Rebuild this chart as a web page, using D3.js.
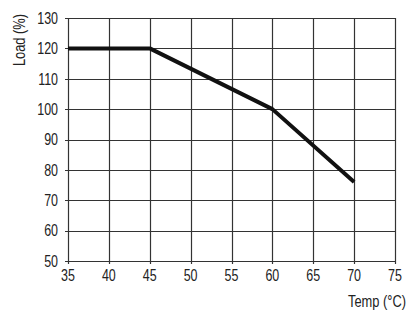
<!DOCTYPE html>
<html>
<head>
<meta charset="utf-8">
<script src="https://cdn.jsdelivr.net/npm/d3@7"></script>
<style>
  body { margin: 0; background: #fff; }
  text { font-family: "Liberation Sans", Arial, sans-serif; fill: #222; }
</style>
</head>
<body>
<svg width="420" height="321"></svg>
<script>
  // derating curve
  const temps = [35, 45, 60, 70];
  const loads = [120, 120, 100, 76];
  const xTicks = [35, 40, 45, 50, 55, 60, 65, 70, 75];
  const yTicks = [50, 60, 70, 80, 90, 100, 110, 120, 130];

  const svg = d3.select('svg');
  const margin = { left: 68, right: 25, top: 18, bottom: 60 };
  const width = 420 - margin.left - margin.right;
  const height = 321 - margin.top - margin.bottom;
  const squeeze = 0.78; // fake condensed font

  const x = d3.scaleLinear().domain([35, 75]).range([0, width]);
  const y = d3.scaleLinear().domain([50, 130]).range([height, 0]);

  const g = svg.append('g').attr('transform', `translate(${margin.left},${margin.top})`);

  // grid
  g.selectAll('.vgrid').data(xTicks).enter().append('line')
    .attr('x1', d => Math.round(x(d)) + 0.5).attr('x2', d => Math.round(x(d)) + 0.5)
    .attr('y1', 0).attr('y2', height + 3)
    .attr('stroke', '#333').attr('stroke-width', 1.2);
  g.selectAll('.hgrid').data(yTicks).enter().append('line')
    .attr('y1', d => Math.round(y(d)) + 0.5).attr('y2', d => Math.round(y(d)) + 0.5)
    .attr('x1', -3).attr('x2', width)
    .attr('stroke', '#333').attr('stroke-width', 1.2);

  // tick labels
  g.selectAll('.xl').data(xTicks).enter().append('text')
    .attr('transform', d => `translate(${x(d)},${height + 20}) scale(${squeeze},1)`)
    .attr('text-anchor', 'middle').attr('font-size', 16)
    .text(d => d);
  g.selectAll('.yl').data(yTicks).enter().append('text')
    .attr('transform', d => `translate(-10,${y(d)}) scale(${squeeze},1)`)
    .attr('dy', '0.36em')
    .attr('text-anchor', 'end').attr('font-size', 16)
    .text(d => d);

  // curve
  const line = d3.line().x(d => x(d[0])).y(d => y(d[1]));
  g.append('path')
    .datum(temps.map((t, i) => [t, loads[i]]))
    .attr('d', line)
    .attr('fill', 'none').attr('stroke', '#111').attr('stroke-width', 4)
    .attr('stroke-linejoin', 'round');

  // axis titles
  svg.append('text')
    .attr('transform', `translate(25,40) rotate(-90) scale(${squeeze},1)`)
    .attr('text-anchor', 'middle').attr('font-size', 16.5)
    .text('Load (%)');
  svg.append('text')
    .attr('transform', `translate(406,307) scale(${squeeze},1)`)
    .attr('text-anchor', 'end').attr('font-size', 16.5)
    .text('Temp (°C)');
</script>
</body>
</html>
